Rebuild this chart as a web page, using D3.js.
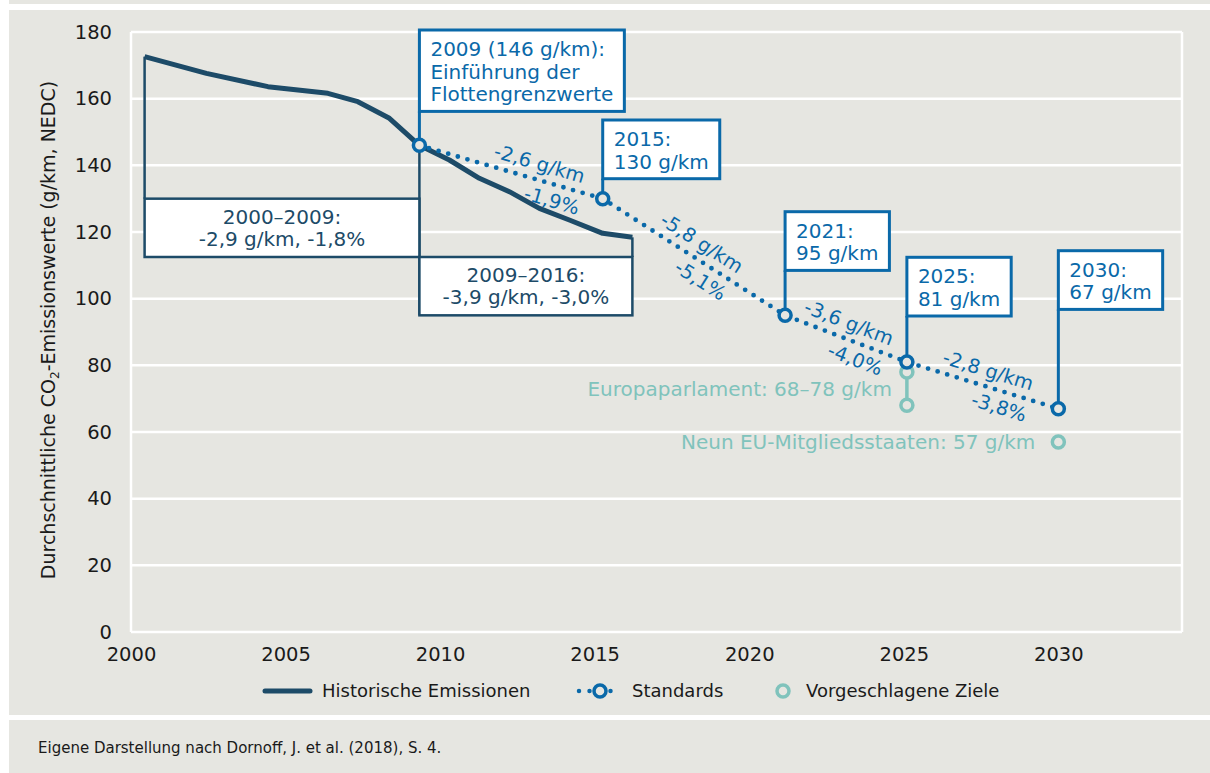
<!DOCTYPE html>
<html lang="de">
<head>
<meta charset="utf-8">
<title>CO2-Flottengrenzwerte</title>
<script src="https://cdn.jsdelivr.net/npm/d3@7.9.0/dist/d3.min.js"></script>
<style>
  body { margin: 0; background: #fff; }
  svg { display: block; font-family: "DejaVu Sans", sans-serif; }
</style>
</head>
<body>
<svg id="chart" width="1210" height="773"></svg>
<script>
// --- data (years are positions read against the drawn year axis) ---
const histYears = [2000.44, 2002.44, 2004.43, 2006.37, 2007.34, 2008.36, 2009.33,
  2010.30, 2011.27, 2012.24, 2013.21, 2014.18, 2015.26, 2016.22];
const histValues = [172.6, 167.6, 163.6, 161.6, 159.1, 154.1, 146,
  141.6, 136.1, 132.1, 127.1, 123.6, 119.6, 118.4];

const stdYears = [2009.33, 2015.26, 2021.16, 2025.1, 2030];
const stdValues = [146, 130, 95, 81, 67];
const stdLabels = [
  ['2009 (146 g/km):', 'Einführung der', 'Flottengrenzwerte'],
  ['2015:', '130 g/km'],
  ['2021:', '95 g/km'],
  ['2025:', '81 g/km'],
  ['2030:', '67 g/km']
];
const slopeGkm = ['-2,6 g/km', '-5,8 g/km', '-3,6 g/km', '-2,8 g/km'];
const slopePct = ['-1,9%', '-5,1%', '-4,0%', '-3,8%'];

const periodLabels = [['2000–2009:', '-2,9 g/km, -1,8%'], ['2009–2016:', '-3,9 g/km, -3,0%']];

const parlYear = 2025.1;
const parlRange = [78, 68];
const parlLabel = 'Europaparlament: 68–78 g/km';
const memberYear = 2030;
const memberValue = 57;
const memberLabel = 'Neun EU-Mitgliedsstaaten: 57 g/km';

const yTicks = [0, 20, 40, 60, 80, 100, 120, 140, 160, 180];
const xTicks = [2000, 2005, 2010, 2015, 2020, 2025, 2030];
const legendLabels = ['Historische Emissionen', 'Standards', 'Vorgeschlagene Ziele'];

// --- layout ---
const navy = '#1d4b68', blue = '#0a69a9', teal = '#80c3bc', bg = '#e6e6e1', ink = '#1a1a1a';
const periodBands = [[130, 112.5], [112.5, 95]];      // box extents in g/km
const boxTops = [30, 120, 211.7, 257.3, 250.7];       // px, blue callouts
const gkmShift = [25, -1, -3, 1], pctShift = [47, 18, 16, 22];

const svg = d3.select('#chart');
svg.append('rect').attr('x', 9).attr('y', 0).attr('width', 1201).attr('height', 4).attr('fill', bg);
svg.append('rect').attr('x', 9).attr('y', 10).attr('width', 1201).attr('height', 705).attr('fill', bg);
svg.append('rect').attr('x', 9).attr('y', 720).attr('width', 1201).attr('height', 53).attr('fill', bg);

const x = d3.scaleLinear().domain([2000, 2034]).range([131, 1182]);
const y = d3.scaleLinear().domain([0, 180]).range([632, 32]);

// grid + frame
const grid = svg.append('g').attr('stroke', '#fff').attr('stroke-width', 2.5);
grid.selectAll('line.h').data(yTicks).join('line').attr('class', 'h')
  .attr('x1', x(2000)).attr('x2', x(2034)).attr('y1', d => y(d)).attr('y2', d => y(d));
grid.selectAll('line.v').data([2000, 2034]).join('line').attr('class', 'v')
  .attr('x1', d => x(d)).attr('x2', d => x(d)).attr('y1', y(180)).attr('y2', y(0));

// axes
const yAxis = svg.append('g').attr('transform', `translate(${x(2000)},0)`)
  .call(d3.axisLeft(y).tickValues(yTicks).tickSize(0).tickPadding(19));
const xAxis = svg.append('g').attr('transform', `translate(0,${y(0)})`)
  .call(d3.axisBottom(x).tickValues(xTicks).tickFormat(d3.format('d')).tickSize(0).tickPadding(15));
[yAxis, xAxis].forEach(g => {
  g.select('.domain').remove();
  g.selectAll('text').attr('font-size', 19.5).attr('fill', ink).attr('font-family', 'DejaVu Sans');
});

// y title
const yTitle = svg.append('text').attr('transform', 'translate(55,330) rotate(-90)')
  .attr('text-anchor', 'middle').attr('font-size', 19).attr('fill', ink);
yTitle.append('tspan').text('Durchschnittliche CO');
yTitle.append('tspan').text('2').attr('font-size', 12).attr('dy', '0.35em');
yTitle.append('tspan').text('-Emissionswerte (g/km, NEDC)').attr('dy', '-0.22em');

// period boxes
const last = histYears.length - 1;
const periodX = [[histYears[0], stdYears[0]], [stdYears[0], histYears[last]]];
const conn = svg.append('g').attr('stroke', navy).attr('stroke-width', 2.5);
conn.append('line').attr('x1', x(histYears[0])).attr('x2', x(histYears[0]))
  .attr('y1', y(histValues[0])).attr('y2', y(periodBands[0][0]));
conn.append('line').attr('x1', x(stdYears[0])).attr('x2', x(stdYears[0]))
  .attr('y1', y(stdValues[0])).attr('y2', y(periodBands[1][1]));
conn.append('line').attr('x1', x(histYears[last])).attr('x2', x(histYears[last]))
  .attr('y1', y(histValues[last])).attr('y2', y(periodBands[1][0]));

periodLabels.forEach((lines, i) => {
  const x0 = x(periodX[i][0]), x1 = x(periodX[i][1]);
  const y0 = y(periodBands[i][0]), y1 = y(periodBands[i][1]);
  svg.append('rect').attr('x', x0).attr('y', y0).attr('width', x1 - x0).attr('height', y1 - y0)
    .attr('fill', '#fff').attr('stroke', navy).attr('stroke-width', 2.5);
  const mid = (y0 + y1) / 2;
  svg.append('g').selectAll('text').data(lines).join('text')
    .attr('x', (x0 + x1) / 2).attr('y', (d, k) => mid - 4.3 + k * 22.5)
    .attr('text-anchor', 'middle').attr('font-size', 20).attr('fill', navy).text(d => d);
});

// historic line
svg.append('path').datum(histYears.map((d, i) => [d, histValues[i]]))
  .attr('d', d3.line().x(d => x(d[0])).y(d => y(d[1])))
  .attr('fill', 'none').attr('stroke', navy).attr('stroke-width', 5)
  .attr('stroke-linejoin', 'round');

// blue callouts
stdLabels.forEach((lines, i) => {
  const px = x(stdYears[i]), py = y(stdValues[i]);
  const top = boxTops[i];
  const h = 26 + (lines.length - 1) * 22.7 + 10;
  svg.append('line').attr('x1', px).attr('x2', px).attr('y1', top + h).attr('y2', py)
    .attr('stroke', blue).attr('stroke-width', 3);
  const rect = svg.append('rect').attr('x', px).attr('y', top).attr('height', h)
    .attr('fill', '#fff').attr('stroke', blue).attr('stroke-width', 3);
  const t = svg.append('g').selectAll('text').data(lines).join('text')
    .attr('x', px + 11).attr('y', (d, k) => top + 26 + k * 22.7)
    .attr('font-size', 20).attr('fill', blue).text(d => d);
  const w = d3.max(t.nodes(), n => n.getComputedTextLength());
  rect.attr('width', w + 22);
});

// standards dotted line
const stdPts = stdYears.map((d, i) => [x(d), y(stdValues[i])]);
svg.append('path').attr('d', d3.line()(stdPts))
  .attr('fill', 'none').attr('stroke', blue).attr('stroke-width', 4.8)
  .attr('stroke-dasharray', '0 10').attr('stroke-linecap', 'round');

// slope labels
slopeGkm.forEach((lab, i) => {
  const [ax, ay] = stdPts[i], [bx, by] = stdPts[i + 1];
  const len = Math.hypot(bx - ax, by - ay);
  const ux = (bx - ax) / len, uy = (by - ay) / len;
  const nx = uy, ny = -ux;
  const ang = Math.atan2(by - ay, bx - ax) * 180 / Math.PI;
  const mx = (ax + bx) / 2, my = (ay + by) / 2;
  [[lab, gkmShift[i], 16], [slopePct[i], pctShift[i], -16]].forEach(([txt, a, p]) => {
    const tx = mx + ux * a + nx * p, ty = my + uy * a + ny * p;
    svg.append('text').attr('transform', `translate(${tx},${ty}) rotate(${ang})`)
      .attr('text-anchor', 'middle').attr('dy', '0.35em')
      .attr('font-size', 19.5).attr('fill', blue).text(txt);
  });
});

// proposed targets
svg.append('line').attr('x1', x(parlYear)).attr('x2', x(parlYear))
  .attr('y1', y(parlRange[0])).attr('y2', y(parlRange[1]))
  .attr('stroke', teal).attr('stroke-width', 3.5);
svg.append('text').attr('x', x(parlYear) - 15).attr('y', y(d3.mean(parlRange))).attr('dy', '0.35em')
  .attr('text-anchor', 'end').attr('font-size', 20).attr('fill', teal).text(parlLabel);
svg.append('text').attr('x', x(memberYear) - 23).attr('y', y(memberValue)).attr('dy', '0.35em')
  .attr('text-anchor', 'end').attr('font-size', 20).attr('fill', teal).text(memberLabel);
const tealPts = parlRange.map(v => [parlYear, v]).concat([[memberYear, memberValue]]);
svg.append('g').selectAll('circle').data(tealPts).join('circle')
  .attr('cx', d => x(d[0])).attr('cy', d => y(d[1])).attr('r', 6)
  .attr('fill', bg).attr('stroke', teal).attr('stroke-width', 3.5);

// standard markers
svg.append('g').selectAll('circle').data(stdPts).join('circle')
  .attr('cx', d => d[0]).attr('cy', d => d[1]).attr('r', 6)
  .attr('fill', bg).attr('stroke', blue).attr('stroke-width', 3.5);

// legend
const ly = 691;
const leg = svg.append('g').attr('font-size', 18).attr('fill', ink);
leg.append('line').attr('x1', 265).attr('x2', 310).attr('y1', ly).attr('y2', ly)
  .attr('stroke', navy).attr('stroke-width', 5).attr('stroke-linecap', 'round');
leg.append('text').attr('x', 322).attr('y', ly).attr('dy', '0.36em').text(legendLabels[0]);
leg.append('line').attr('x1', 579).attr('x2', 621).attr('y1', ly).attr('y2', ly)
  .attr('stroke', blue).attr('stroke-width', 4.5).attr('stroke-dasharray', '0 10.5')
  .attr('stroke-linecap', 'round');
leg.append('circle').attr('cx', 600).attr('cy', ly).attr('r', 6)
  .attr('fill', bg).attr('stroke', blue).attr('stroke-width', 3.5);
leg.append('text').attr('x', 632).attr('y', ly).attr('dy', '0.36em').text(legendLabels[1]);
leg.append('circle').attr('cx', 783).attr('cy', ly).attr('r', 6)
  .attr('fill', bg).attr('stroke', teal).attr('stroke-width', 3.5);
leg.append('text').attr('x', 806).attr('y', ly).attr('dy', '0.36em').text(legendLabels[2]);

// source
svg.append('text').attr('x', 38).attr('y', 753).attr('font-size', 15).attr('fill', ink)
  .text('Eigene Darstellung nach Dornoff, J. et al. (2018), S. 4.');
</script>
</body>
</html>
